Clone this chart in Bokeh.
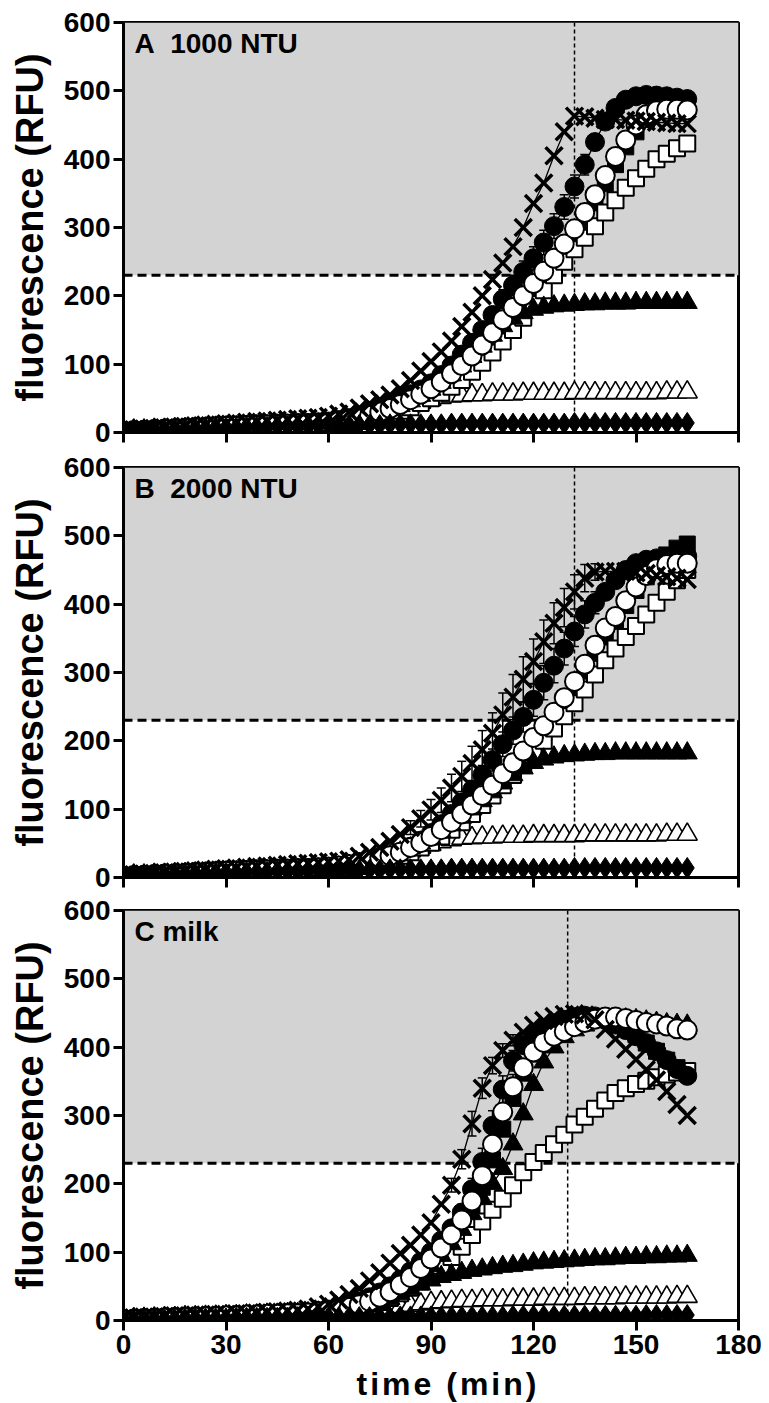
from bokeh.plotting import figure
from bokeh.models import (Range1d, BoxAnnotation, Span, Label, FixedTicker,
                          Whisker, TeeHead, ColumnDataSource, Div)
from bokeh.layouts import column
from bokeh.embed import file_html
from bokeh.resources import INLINE

# sampling times (min)
time_min = [0, 3, 6, 9, 12, 15, 18, 21, 24, 27, 30, 33, 36, 39, 42, 45, 48, 51, 54,
            57, 60, 63, 66, 69, 72, 75, 78, 81, 84, 87, 90, 93, 96, 99, 102, 105, 108,
            111, 114, 117, 120, 123, 126, 129, 132, 135, 138, 141, 144, 147, 150, 153,
            156, 159, 162, 165]

x_ticks = [0, 30, 60, 90, 120, 150, 180]
y_ticks = [0, 100, 200, 300, 400, 500, 600]
threshold = 230

# ---------------- Panel A: 1000 NTU ----------------
A_cross = [3,4,5,6,7,8,9,10,11,12,13,14,15,16,17,18,19,20,21,
           22,24,27,30,36,42,48,55,64,76,90,104,118,134,155,176,200,224,248,272,
           300,335,365,405,440,463,462,460,458,458,457,456,455,454,453,452,452]
A_fcirc = [2,3,4,5,5,6,7,8,8,9,10,10,11,12,12,13,13,14,14,
           15,16,18,21,25,30,36,42,49,56,63,72,84,98,114,131,150,172,195,215,
           235,255,278,302,330,360,392,425,455,475,487,492,494,493,492,490,488]
A_ocirc = [2,3,3,4,5,5,6,7,7,8,9,9,10,10,11,11,12,12,13,
           13,14,16,18,21,25,30,35,41,48,56,64,74,86,98,112,128,146,165,183,
           200,218,236,255,276,298,322,348,376,404,428,450,465,471,473,473,472]
A_fsq = [2,3,3,4,4,5,6,6,7,8,8,9,9,10,10,11,11,12,12,
         13,14,15,17,20,23,27,32,38,44,51,59,68,79,90,103,117,133,150,168,
         186,204,222,242,263,285,310,336,364,392,418,440,458,470,476,479,480]
A_osq = [2,2,3,3,4,4,5,5,6,6,7,7,8,8,9,9,10,10,11,
         11,12,13,15,17,20,23,27,32,37,43,50,58,67,77,89,102,117,133,150,
         168,188,208,230,250,268,285,302,322,340,358,372,386,400,408,416,423]
A_ftri = [2,3,3,4,4,5,5,6,6,7,7,8,8,9,9,10,10,11,11,
          12,13,15,17,20,24,28,33,39,46,54,63,73,84,97,111,126,142,156,167,
          175,180,183,185,186,187,188,188,189,189,189,190,190,190,190,190,190]
A_otri = [2,3,3,4,4,5,5,6,6,7,7,7,8,8,9,9,9,10,10,
          11,12,13,15,17,20,24,29,34,39,44,48,51,53,54,55,55,56,56,56,
          57,57,57,57,57,58,58,58,58,58,58,58,58,58,59,59,59]
A_dia = [2,3,3,4,4,5,5,6,6,7,7,7,8,8,8,9,9,9,10,
         10,10,10,11,11,11,11,12,12,12,12,12,12,13,13,13,13,13,13,13,
         13,13,13,13,13,14,14,14,14,14,14,14,14,14,14,14,14]
# error bars (SD) for panel A
A_fcirc_err = [0,0,0,0,0,0,0,0,0,0,0,0,0,0,0,0,0,0,0,0,0,0,0,0,0,0,0,0,0,0,0,0,0,
               6,8,10,12,14,15,16,17,18,18,18,17,15,12,10,6,
               0,0,0,0,0,0,0]
A_ocirc_err = [0,0,0,0,0,0,0,0,0,0,0,0,0,0,0,0,0,0,0,0,0,0,0,0,0,0,0,0,0,0,0,0,0,0,0,
               5,6,7,8,9,10,10,10,10,10,9,8,7,6,
               0,0,0,0,0,0,0]

# ---------------- Panel B: 2000 NTU ----------------
B_cross = [3,4,5,6,7,8,9,10,11,12,13,14,15,16,17,18,19,20,21,
           22,23,24,26,31,37,44,53,63,73,86,99,113,131,148,167,187,211,238,264,
           290,316,345,372,395,418,438,447,448,448,448,446,445,442,440,438,436]
B_fcirc = [2,3,4,5,5,6,7,8,8,9,10,10,11,12,12,13,13,14,14,
           15,16,17,18,20,22,26,31,37,45,54,65,78,93,110,128,150,172,195,215,
           235,260,285,310,335,360,385,402,418,435,450,460,465,467,469,470,470]
B_ocirc = [2,3,3,4,5,5,6,7,7,8,9,9,10,10,11,11,12,12,13,
           14,15,17,19,22,25,29,32,37,44,51,60,70,81,93,106,120,135,152,168,
           185,205,222,242,263,287,312,340,365,382,405,425,442,452,458,460,460]
B_fsq = [2,3,3,4,4,5,6,6,7,8,8,9,9,10,10,11,11,12,12,
         13,14,15,17,19,22,26,30,35,41,48,56,65,75,86,98,111,125,140,156,
         173,192,212,233,255,278,302,328,352,375,398,420,440,458,472,482,488]
B_osq = [2,2,3,3,4,4,5,5,6,6,7,7,8,8,9,9,10,10,11,
         11,12,13,15,17,20,23,27,32,37,44,51,60,70,81,93,106,120,135,150,
         166,183,200,218,236,255,275,297,318,335,352,368,385,402,418,435,450]
B_ftri = [2,3,3,4,4,5,5,6,6,7,7,8,8,9,9,10,10,11,11,
          12,13,15,17,20,23,27,32,37,43,50,58,67,77,88,100,112,125,138,150,
          160,168,173,176,178,179,180,181,181,182,182,182,182,182,182,182,182]
B_otri = [2,3,3,4,4,5,5,6,6,7,7,7,8,8,9,9,9,10,10,
          11,12,13,15,17,20,24,29,34,39,44,48,52,55,57,58,59,59,60,60,
          60,61,61,61,61,61,62,62,62,62,62,62,62,62,63,63,63]
B_dia = [2,3,3,4,4,5,5,6,6,7,7,7,8,8,8,9,9,9,10,
         10,10,10,11,11,11,11,12,12,12,12,12,12,13,13,13,13,13,13,13,
         13,13,13,13,13,14,14,14,14,14,14,14,14,14,14,14,14]
B_cross_err = [0,0,0,0,0,0,0,0,0,0,0,0,0,0,0,0,0,0,0,0,0,0,0,0,0,0,0,0,
               10,12,15,18,20,22,25,28,30,32,33,33,33,32,30,28,25,20,12,
               0,0,0,0,0,0,0,0,0]
B_fcirc_err = [0,0,0,0,0,0,0,0,0,0,0,0,0,0,0,0,0,0,0,0,0,0,0,0,0,0,0,0,0,0,0,0,
               8,10,12,14,16,18,20,22,24,25,25,24,22,20,16,10,
               0,0,0,0,0,0,0,0]
B_ocirc_err = [0,0,0,0,0,0,0,0,0,0,0,0,0,0,0,0,0,0,0,0,0,0,0,0,0,0,0,0,0,0,0,0,0,
               5,6,7,8,8,9,9,10,10,10,10,9,8,7,6,
               0,0,0,0,0,0,0,0]

# ---------------- Panel C: milk ----------------
C_cross = [3,4,5,5,6,7,7,8,8,9,9,10,10,11,12,13,14,15,17,
           20,24,30,38,47,58,70,84,98,110,125,143,170,198,236,288,340,373,395,410,
           422,432,439,445,448,449,447,440,426,412,397,382,367,352,335,316,300]
C_fcirc = [2,3,3,4,4,5,5,6,6,7,7,8,8,9,9,10,10,11,12,
           14,16,19,23,28,34,41,50,60,72,86,100,117,135,158,192,232,285,338,380,
           403,418,428,435,440,444,446,445,440,433,425,416,406,394,381,368,358]
C_ocirc = [2,2,3,3,4,4,5,5,6,6,7,7,8,8,9,9,10,10,11,
           12,14,16,19,23,28,34,42,52,63,76,90,106,125,147,175,212,258,305,342,
           370,393,407,416,423,430,436,441,444,444,442,439,436,434,431,427,425]
C_ftri_hi = [2,2,3,3,4,4,5,5,6,6,7,7,8,8,9,9,10,10,11,
             12,13,15,18,21,25,30,36,44,54,66,80,95,112,133,156,178,200,222,258,
             302,345,378,400,415,425,432,437,440,441,441,440,438,436,434,433,432]
C_fsq = [2,2,3,3,4,4,5,5,6,6,7,7,8,8,9,9,10,10,11,
         12,13,15,18,22,27,33,40,49,60,72,86,102,120,140,165,195,235,280,325,
         362,390,410,424,434,440,444,445,442,436,428,418,406,394,381,370,362]
C_osq = [2,2,3,3,4,4,5,5,5,6,6,7,7,8,8,9,9,10,10,
         11,12,13,15,18,22,27,33,40,48,57,67,80,93,108,125,145,162,178,198,
         217,232,245,258,272,287,298,310,322,333,340,346,351,356,360,363,365]
C_ftri = [2,2,3,3,4,4,5,5,5,6,6,6,7,7,7,8,8,9,9,
          10,10,12,14,17,21,26,32,39,46,53,59,64,67,70,73,75,77,79,80,
          82,84,85,86,87,88,89,90,90,91,92,92,93,93,94,94,95]
C_otri = [1,2,2,3,3,3,4,4,4,5,5,5,5,6,6,6,6,7,7,
          7,8,8,9,10,12,14,17,20,22,24,26,27,28,29,29,30,30,30,31,
          31,31,32,32,32,32,33,33,33,33,34,34,34,34,34,35,35]
C_dia = [1,1,2,2,2,2,3,3,3,3,3,4,4,4,4,4,4,5,5,
         5,5,5,5,5,5,5,5,6,6,6,6,6,6,6,6,6,6,6,7,
         7,7,7,7,7,7,7,7,7,7,7,7,8,8,8,8,8]
C_cross_err = [0,0,0,0,0,0,0,0,0,0,0,0,0,0,0,0,0,0,0,0,0,0,0,0,0,0,0,0,0,0,0,0,
               10,14,18,15,12,10,8,
               0,0,0,0,0,0,0,0,0,0,0,0,0,0,0,0,0]
C_fcirc_err = [0,0,0,0,0,0,0,0,0,0,0,0,0,0,0,0,0,0,0,0,0,0,0,0,0,0,0,0,0,0,0,0,0,
               12,16,20,22,20,15,10,8,
               0,0,0,0,0,0,0,0,0,0,0,0,0,0,0]
C_ocirc_err = [0,0,0,0,0,0,0,0,0,0,0,0,0,0,0,0,0,0,0,0,0,0,0,0,0,0,0,0,0,0,0,0,0,
               10,14,18,20,22,18,12,10,8,6,
               0,0,0,0,0,0,0,0,0,0,0,0,0]

panel_titles = ["A\u00a0\u00a01000 NTU", "B\u00a0\u00a02000 NTU", "C milk"]
vline_pos = [132, 132, 130]
x_title = "time (min)"
y_title = "fluorescence (RFU)"

FONT = "'Liberation Sans', Arial, sans-serif"

STYLE = {
    "dia":     dict(marker="diamond",  size=21, fill_color="black", line_width=1),
    "otri":    dict(marker="triangle", size=20, fill_color="white", line_width=1.6),
    "fsq":     dict(marker="square",   size=16, fill_color="black", line_width=1),
    "osq":     dict(marker="square",   size=16, fill_color="white", line_width=2),
    "ftri":    dict(marker="triangle", size=20, fill_color="black", line_width=1),
    "ftri_hi": dict(marker="triangle", size=20, fill_color="black", line_width=1),
    "fcirc":   dict(marker="circle",   size=19, fill_color="black", line_width=1),
    "ocirc":   dict(marker="circle",   size=19, fill_color="white", line_width=2),
    "cross":   dict(marker="x",        size=24, fill_color="black", line_width=3.5),
}
DRAW_ORDER = ["otri", "fsq", "osq", "ftri", "ftri_hi", "fcirc", "ocirc", "cross", "dia"]

panels = [
    {"dia": A_dia, "otri": A_otri, "fsq": A_fsq, "osq": A_osq, "ftri": A_ftri,
     "fcirc": A_fcirc, "ocirc": A_ocirc, "cross": A_cross},
    {"dia": B_dia, "otri": B_otri, "fsq": B_fsq, "osq": B_osq, "ftri": B_ftri,
     "fcirc": B_fcirc, "ocirc": B_ocirc, "cross": B_cross},
    {"dia": C_dia, "otri": C_otri, "ftri": C_ftri, "fsq": C_fsq, "osq": C_osq,
     "ftri_hi": C_ftri_hi, "fcirc": C_fcirc, "ocirc": C_ocirc, "cross": C_cross},
]
errors = [
    {"fcirc": A_fcirc_err, "ocirc": A_ocirc_err},
    {"cross": B_cross_err, "fcirc": B_fcirc_err, "ocirc": B_ocirc_err},
    {"cross": C_cross_err, "fcirc": C_fcirc_err, "ocirc": C_ocirc_err},
]


def make_panel(idx):
    last = idx == 2
    p = figure(frame_width=615, frame_height=410,
               x_range=Range1d(0, 180), y_range=Range1d(0, 600),
               output_backend="svg", toolbar_location=None,
               min_border_left=123, min_border_right=31,
               min_border_top=[22, 18, 16][idx],
               min_border_bottom=[17, 17, 46][idx],
               background_fill_color="white", border_fill_color="white")
    p.grid.visible = False
    p.outline_line_color = "black"
    p.outline_line_width = 3

    p.add_layout(BoxAnnotation(bottom=threshold, fill_color="#d3d3d3", fill_alpha=1,
                               line_alpha=0, level="underlay"))
    p.add_layout(Span(location=threshold, dimension="width", line_color="black",
                      line_width=3, line_dash="9 5", level="underlay"))
    p.add_layout(Span(location=vline_pos[idx], dimension="height", line_color="black",
                      line_width=1.5, line_dash="4 3", level="underlay"))

    data = panels[idx]
    for key, err in errors[idx].items():
        vals = data[key]
        assert len(err) == len(time_min), (idx, key, "err", len(err))
        base = [t for t, e in zip(time_min, err) if e > 0]
        up = [v + e for v, e in zip(vals, err) if e > 0]
        lo = [v - e for v, e in zip(vals, err) if e > 0]
        src = ColumnDataSource(dict(base=base, upper=up, lower=lo))
        p.add_layout(Whisker(source=src, base="base", upper="upper", lower="lower",
                             line_color="black", line_width=1.5, level="underlay",
                             upper_head=TeeHead(size=9, line_width=1.5),
                             lower_head=TeeHead(size=9, line_width=1.5)))

    for key in DRAW_ORDER:
        if key not in data:
            continue
        vals = data[key]
        assert len(vals) == len(time_min), (idx, key, len(vals))
        p.line(time_min, vals, line_color="black", line_width=1.3)
    for key in DRAW_ORDER:
        if key not in data:
            continue
        st = STYLE[key]
        p.scatter(time_min, data[key], marker=st["marker"], size=st["size"],
                  fill_color=st["fill_color"], line_color="black",
                  line_width=st["line_width"])

    p.add_layout(Label(x=3.2, y=592, text=panel_titles[idx], text_font=FONT,
                       text_font_size="28px", text_font_style="bold",
                       text_baseline="top", text_color="black"))

    for ax in (p.xaxis[0], p.yaxis[0]):
        ax.axis_line_width = 3
        ax.major_tick_line_width = 3
        ax.major_tick_in = 0
        ax.major_tick_out = 10
        ax.minor_tick_line_color = None
        ax.major_label_text_font = FONT
        ax.major_label_text_font_style = "bold"
        ax.major_label_text_font_size = "28px"
        ax.major_label_text_color = "black"
        ax.axis_label_text_font = FONT
        ax.axis_label_text_font_style = "bold"
        ax.axis_label_text_font_size = "38px"
        ax.axis_label_text_color = "black"

    p.xaxis.ticker = FixedTicker(ticks=x_ticks)
    p.yaxis.ticker = FixedTicker(ticks=y_ticks)
    p.yaxis.axis_label = y_title
    p.yaxis.major_label_standoff = 3
    p.yaxis.axis_label_standoff = 10
    if last:
        p.xaxis.major_label_standoff = 4
    else:
        p.xaxis.major_label_text_font_size = "1px"
        p.xaxis.major_label_text_color = None
        p.xaxis.major_label_standoff = 0
    return p


x_title_div = Div(
    text=('<div style="width:650px; margin-left:123px; text-align:center; '
          'font-family:\'Liberation Sans\', Arial, sans-serif; font-weight:bold; '
          'font-size:32px; line-height:37px; letter-spacing:3px; color:black; '
          'white-space:nowrap;">' + x_title + '</div>'),
    width=769, height=37, margin=(0, 0, 0, 0))

layout = column(make_panel(0), make_panel(1), make_panel(2), x_title_div, spacing=0)

with open("out.html", "w") as f:
    f.write(file_html(layout, INLINE))
